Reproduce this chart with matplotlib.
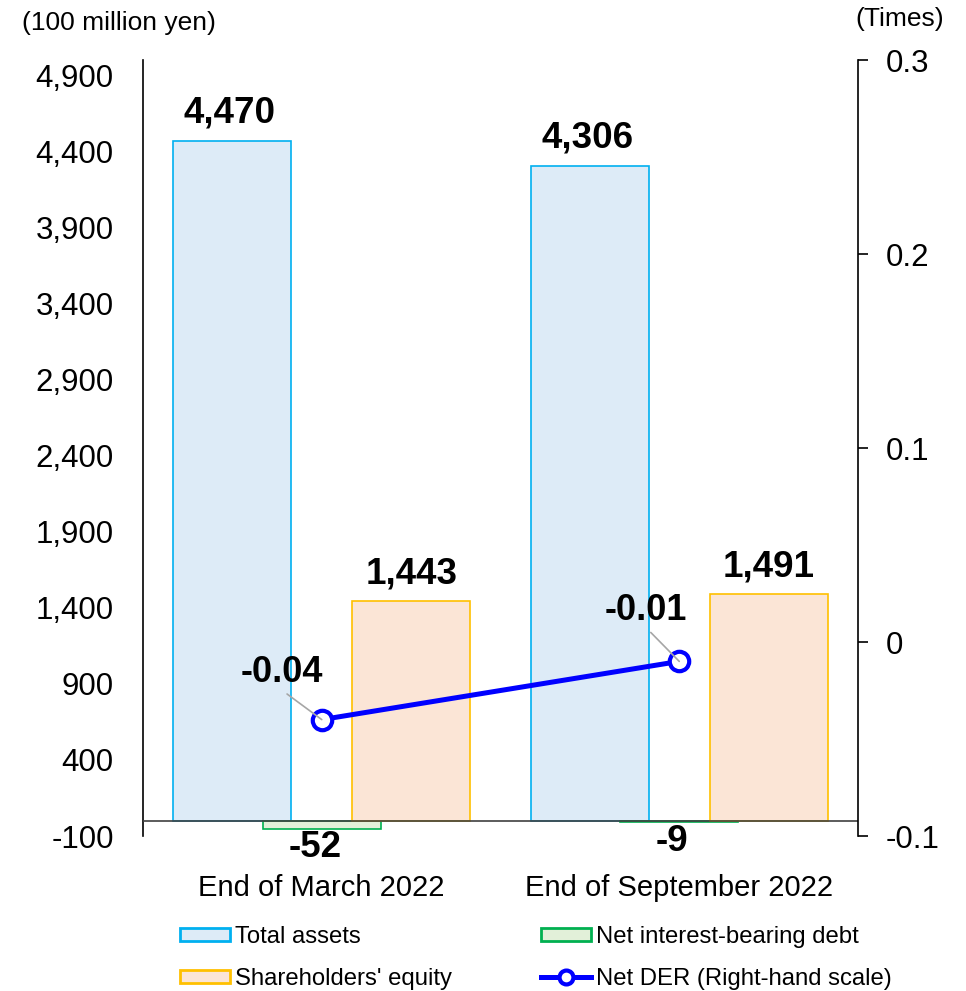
import numpy as np
import matplotlib.pyplot as plt
from matplotlib.lines import Line2D
from matplotlib.patches import Patch

plt.rcParams['font.family'] = ['Liberation Sans', 'DejaVu Sans']

# Balance sheet figures (100 million yen) and net DER (times)
periods = ['End of March 2022', 'End of September 2022']
total_assets = [4470, 4306]
net_debt = [-52, -9]
equity = [1443, 1491]
net_der = [-0.04, -0.01]

left_ticks = [-100, 400, 900, 1400, 1900, 2400, 2900, 3400, 3900, 4400, 4900]
right_ticks = [-0.1, 0, 0.1, 0.2, 0.3]

c_assets, e_assets = '#DDEBF7', '#00B0F0'
c_equity, e_equity = '#FBE5D6', '#FFC000'
c_debt, e_debt = '#E2F0D9', '#00B050'
c_line = '#0000FF'

fig = plt.figure(figsize=(9.66, 9.91), dpi=100)
ax = fig.add_axes([143 / 966, 1 - 836 / 991, 715 / 966, 776 / 991])
ax2 = ax.twinx()

x = np.arange(len(periods))
w = 0.33
ax.bar(x - 0.25, total_assets, w, color=c_assets, edgecolor=e_assets, linewidth=1.2, zorder=2)
ax.bar(x, net_debt, w, color=c_debt, edgecolor=e_debt, linewidth=1.2, zorder=2)
ax.bar(x + 0.25, equity, w, color=c_equity, edgecolor=e_equity, linewidth=1.2, zorder=2)
ax.axhline(0, color='#404040', linewidth=1.2, zorder=3)

ax.set_xlim(-0.5, 1.5)
ax.set_ylim(-100, 5000)
ax.set_yticks(left_ticks)
ax.set_yticklabels([f'{t:,}' for t in left_ticks])
ax.tick_params(axis='y', length=0, pad=21, labelsize=22.5)
ax.set_xticks(x)
ax.set_xticklabels(periods)
ax.tick_params(axis='x', length=0, pad=27, labelsize=21)
for s in ['top', 'bottom', 'right']:
    ax.spines[s].set_visible(False)
ax.spines['left'].set_linewidth(1.2)

# value labels on bars
for xi, v in zip(x - 0.25, total_assets):
    ax.annotate(f'{v:,}', xy=(xi, v), xytext=(-2, 7), textcoords='offset points',
                ha='center', va='bottom', fontsize=26.5, fontweight='bold')
for xi, v in zip(x + 0.25, equity):
    ax.annotate(f'{v:,}', xy=(xi, v), xytext=(0, 7), textcoords='offset points',
                ha='center', va='bottom', fontsize=26.5, fontweight='bold')
for xi, v in zip(x, net_debt):
    ax.annotate(f'{v:,}', xy=(xi, v), xytext=(-5, -1), textcoords='offset points',
                ha='center', va='top', fontsize=26.5, fontweight='bold')

# net DER on the right-hand scale
ax2.plot(x, net_der, color=c_line, linewidth=3.6, marker='o', markersize=14,
         markerfacecolor='white', markeredgecolor=c_line, markeredgewidth=3, zorder=4)
for xi, v, off in zip(x, net_der, [(-29, 34), (-24, 37)]):
    ax2.annotate(f'{v:.2f}', xy=(xi, v), xytext=off, textcoords='offset points',
                 ha='center', va='center', fontsize=26, fontweight='bold',
                 arrowprops=dict(arrowstyle='-', color='#A6A6A6', lw=1.2, patchA=None,
                                 relpos=(0.5, 0), shrinkA=5, shrinkB=0), zorder=5)
ax2.set_ylim(-0.1, 0.3)
ax2.set_yticks(right_ticks)
ax2.set_yticklabels(['-0.1', '0', '0.1', '0.2', '0.3'])
ax2.tick_params(axis='y', direction='out', length=7, width=1.2, pad=13, labelsize=22.5)
for s in ['top', 'bottom', 'left']:
    ax2.spines[s].set_visible(False)
ax2.spines['right'].set_linewidth(1.2)

fig.text(22 / 966, 1 - 23 / 991, '(100 million yen)', fontsize=19, ha='left', va='center')
fig.text(900 / 966, 1 - 19 / 991, '(Times)', fontsize=19, ha='center', va='center')

handles = [
    Patch(facecolor=c_assets, edgecolor=e_assets, linewidth=2),
    Patch(facecolor=c_equity, edgecolor=e_equity, linewidth=2),
    Patch(facecolor=c_debt, edgecolor=e_debt, linewidth=2),
    Line2D([0], [0], color=c_line, linewidth=3.6, marker='o', markersize=10,
           markerfacecolor='white', markeredgecolor=c_line, markeredgewidth=3),
]
labels = ['Total assets', "Shareholders' equity", 'Net interest-bearing debt',
          'Net DER (Right-hand scale)']
fig.legend(handles, labels, ncol=2, loc='upper left', bbox_to_anchor=(180 / 966, 1 - 926 / 991),
           frameon=False, fontsize=17.2, handlelength=2.1, handleheight=0.5,
           handletextpad=0.22, columnspacing=3.7, labelspacing=0.84, borderpad=0,
           borderaxespad=0)

fig.savefig('out.png', dpi=100)
